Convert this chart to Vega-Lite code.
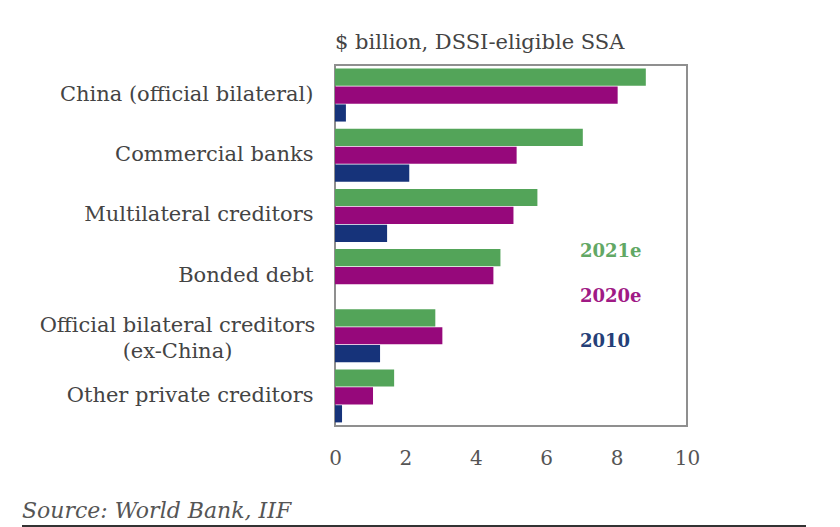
{
  "$schema": "https://vega.github.io/schema/vega-lite/v6.json",
  "background": "white",
  "padding": {"left": 22, "top": 32, "right": 10, "bottom": 0},
  "config": {
    "font": "DejaVu Serif"
  },
  "width": 352,
  "height": 361,
  "title": {
    "text": "$ billion, DSSI-eligible SSA",
    "anchor": "start",
    "frame": "group",
    "font": "DejaVu Serif",
    "fontSize": 21,
    "fontWeight": "normal",
    "color": "#444444",
    "offset": 12
  },
  "view": {"stroke": "#8f8f8f", "strokeWidth": 2},
  "data": {
    "values": [
      {"category": "China (official bilateral)", "series": "2021e", "value": 8.83},
      {"category": "China (official bilateral)", "series": "2020e", "value": 8.03},
      {"category": "China (official bilateral)", "series": "2010", "value": 0.31},
      {"category": "Commercial banks", "series": "2021e", "value": 7.04},
      {"category": "Commercial banks", "series": "2020e", "value": 5.16},
      {"category": "Commercial banks", "series": "2010", "value": 2.11},
      {"category": "Multilateral creditors", "series": "2021e", "value": 5.75},
      {"category": "Multilateral creditors", "series": "2020e", "value": 5.07},
      {"category": "Multilateral creditors", "series": "2010", "value": 1.48},
      {"category": "Bonded debt", "series": "2021e", "value": 4.7},
      {"category": "Bonded debt", "series": "2020e", "value": 4.5},
      {"category": "Bonded debt", "series": "2010", "value": 0},
      {"category": "Official bilateral creditors|(ex-China)", "series": "2021e", "value": 2.85},
      {"category": "Official bilateral creditors|(ex-China)", "series": "2020e", "value": 3.05},
      {"category": "Official bilateral creditors|(ex-China)", "series": "2010", "value": 1.28},
      {"category": "Other private creditors", "series": "2021e", "value": 1.68},
      {"category": "Other private creditors", "series": "2020e", "value": 1.08},
      {"category": "Other private creditors", "series": "2010", "value": 0.2}
    ]
  },
  "mark": {"type": "bar", "strokeWidth": 0},
  "encoding": {
    "y": {
      "field": "category",
      "type": "nominal",
      "sort": null,
      "scale": {"paddingInner": 0.12, "paddingOuter": 0.06},
      "axis": {
        "title": null,
        "domain": false,
        "ticks": false,
        "labelPadding": {"condition": {"test": "indexof(datum.label, '|') >= 0", "value": 158}, "value": 22},
        "labelAlign": {"condition": {"test": "indexof(datum.label, '|') >= 0", "value": "center"}, "value": "right"},
        "labelOffset": {"condition": {"test": "indexof(datum.label, '|') >= 0", "value": -10}, "value": 0},
        "labelFontSize": 21,
        "labelColor": "#444444",
        "labelFont": "DejaVu Serif",
        "labelLimit": 400,
        "labelLineHeight": 26,
        "minExtent": 313,
        "maxExtent": 313,
        "labelExpr": "split(datum.label, '|')"
      }
    },
    "yOffset": {
      "field": "series",
      "type": "nominal",
      "sort": ["2021e", "2020e", "2010"],
      "scale": {"paddingInner": 0.04, "paddingOuter": 0}
    },
    "x": {
      "field": "value",
      "type": "quantitative",
      "scale": {"domain": [0, 10], "nice": false},
      "axis": {
        "title": null,
        "domain": false,
        "ticks": false,
        "grid": false,
        "values": [0, 2, 4, 6, 8, 10],
        "labelPadding": 22,
        "labelFontSize": 20,
        "labelColor": "#555555",
        "labelFont": "DejaVu Serif",
        "labelFlush": false
      }
    },
    "fill": {
      "field": "series",
      "type": "nominal",
      "sort": ["2021e", "2020e", "2010"],
      "scale": {"domain": ["2021e", "2020e", "2010"], "range": ["#53a459", "#96087b", "#16337a"]},
      "legend": {
        "title": null,
        "orient": "none",
        "legendX": 227,
        "legendY": 178,
        "symbolSize": 0,
        "symbolOpacity": 0,
        "symbolStrokeWidth": 0,
        "labelOffset": 0,
        "labelFontSize": 18,
        "labelFontWeight": "bold",
        "labelFont": "DejaVu Serif",
        "rowPadding": 27,
        "labelColor": {"expr": "datum.value === '2021e' ? '#62a865' : datum.value === '2020e' ? '#a01a85' : '#253f78'"}
      }
    },
    "stroke": {
      "field": "value",
      "type": "quantitative",
      "scale": {"range": ["#333333", "#333333"]},
      "legend": {
        "type": "gradient",
        "direction": "horizontal",
        "orient": "none",
        "legendX": -313,
        "legendY": 436,
        "padding": 0,
        "gradientLength": 784,
        "gradientThickness": 3,
        "gradientStrokeWidth": 0,
        "tickCount": 1,
        "labelExpr": "''",
        "labelOpacity": 0,
        "labelFontSize": 1,
        "labelOffset": 0,
        "title": "Source: World Bank, IIF",
        "titleFont": "DejaVu Serif",
        "titleFontSize": 22,
        "titleFontStyle": "italic",
        "titleFontWeight": "normal",
        "titleColor": "#555555",
        "titleAnchor": "start",
        "titlePadding": 2,
        "titleLimit": 800
      }
    }
  }
}
